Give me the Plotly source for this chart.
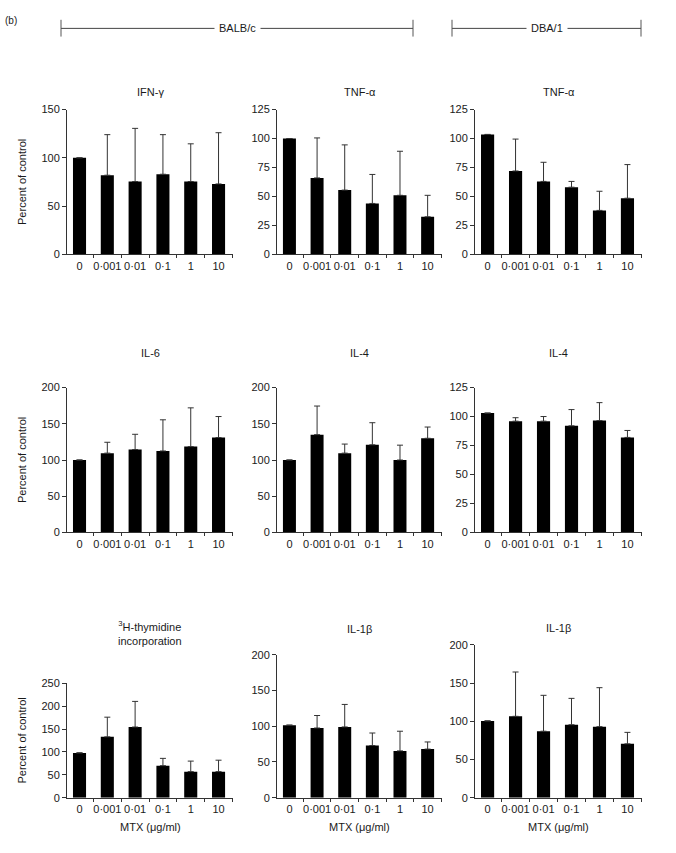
import plotly.graph_objects as go

W, H = 676, 853

doses = ["0", "0·001", "0·01", "0·1", "1", "10"]

ifng_balb = [100, 82, 75.5, 83, 75.5, 73]
ifng_balb_sd = [0, 42, 55, 41, 39, 53]

tnfa_balb = [100, 66, 55.5, 44, 51, 32.5]
tnfa_balb_sd = [0, 34.5, 39, 25, 38, 18.5]

tnfa_dba = [103.5, 72, 63, 58, 38, 48.5]
tnfa_dba_sd = [0, 27.5, 16.5, 5, 16.5, 29]

il6_balb = [100, 109.5, 114.5, 112.5, 118.5, 131]
il6_balb_sd = [0, 15, 21, 43, 53.5, 29]

il4_balb = [100, 135, 109.5, 121, 100, 130]
il4_balb_sd = [0, 39.5, 12.5, 30.5, 20.5, 15.5]

il4_dba = [103, 96, 96, 92, 96.5, 82]
il4_dba_sd = [0, 3, 4, 14, 15.5, 6]

thym_balb = [98, 133, 154.5, 70, 57, 57]
thym_balb_sd = [0, 43, 56, 16, 23, 25]

il1b_balb = [101.5, 97.5, 99, 73, 65.5, 68]
il1b_balb_sd = [0, 17.5, 31.5, 17.5, 27.5, 10]

il1b_dba = [100.5, 106.5, 87, 95.5, 93, 70.5]
il1b_dba_sd = [0, 58, 47, 34.5, 51, 15]

titles = ["IFN-γ", "TNF-α", "TNF-α",
          "IL-6", "IL-4", "IL-4",
          "<sup>3</sup>H-thymidine<br>incorporation", "IL-1β", "IL-1β"]
yranges = [150, 125, 125, 200, 200, 125, 250, 200, 200]
ysteps = [50, 25, 25, 50, 50, 25, 50, 50, 50]

panels = [(ifng_balb, ifng_balb_sd), (tnfa_balb, tnfa_balb_sd), (tnfa_dba, tnfa_dba_sd),
          (il6_balb, il6_balb_sd), (il4_balb, il4_balb_sd), (il4_dba, il4_dba_sd),
          (thym_balb, thym_balb_sd), (il1b_balb, il1b_balb_sd), (il1b_dba, il1b_dba_sd)]

# pixel layout (left, right) per column, (top, bottom) per panel
cols = [(67, 233), (277, 442), (475, 642)]
tops = [105, 105, 105, 387, 387, 387, 687, 658, 648]
bottoms = [252, 252, 252, 534, 534, 534, 803, 803, 803]
title_y = [87, 87, 87, 352, 352, 352, 636, 632, 631]

FONT = "Liberation Sans, Arial, Helvetica, sans-serif"
TXT = "#1a1a1a"
AX = "#333333"

fig = go.Figure()
layout = dict(width=W, height=H, margin=dict(l=0, r=0, t=0, b=0),
              plot_bgcolor="white", paper_bgcolor="white", showlegend=False,
              font=dict(family=FONT, size=11, color=TXT))
annotations = []
shapes = []

xpos = list(range(len(doses)))

for i, ((vals, sd), title) in enumerate(zip(panels, titles)):
    c = i % 3
    n = i + 1
    xa = "x" if n == 1 else f"x{n}"
    ya = "y" if n == 1 else f"y{n}"
    fig.add_trace(go.Bar(
        x=xpos, y=vals, xaxis=xa, yaxis=ya, width=0.47,
        marker=dict(color="black", line=dict(width=0)),
        error_y=dict(type="data", symmetric=False, array=sd,
                     arrayminus=[0] * len(sd), color=AX, thickness=1, width=3),
        hoverinfo="skip",
    ))
    x0, x1 = cols[c]
    dom_x = [x0 / W, x1 / W]
    dom_y = [1 - bottoms[i] / H, 1 - tops[i] / H]
    layout["xaxis" if n == 1 else f"xaxis{n}"] = dict(
        domain=dom_x, anchor=ya, range=[-0.45, 5.52],
        tickmode="array", tickvals=xpos, ticktext=doses, ticks="",
        showline=True, linecolor=AX, linewidth=1, showgrid=False, zeroline=False,
        tickfont=dict(size=11, color=TXT), ticklabelstandoff=1,
        minor=dict(tickmode="array", tickvals=[0.5, 1.5, 2.5, 3.5, 4.5, 5.5],
                   ticks="outside", ticklen=3, tickcolor=AX, tickwidth=1, showgrid=False),
        fixedrange=True,
    )
    layout["yaxis" if n == 1 else f"yaxis{n}"] = dict(
        domain=dom_y, anchor=xa, range=[0, yranges[i]],
        tickmode="linear", tick0=0, dtick=ysteps[i],
        ticks="outside", ticklen=4, tickcolor=AX, tickwidth=1,
        showline=True, linecolor=AX, linewidth=1, showgrid=False, zeroline=False,
        tickfont=dict(size=11, color=TXT), fixedrange=True,
    )
    annotations.append(dict(text=title, x=(x0 + x1) / 2 / W, y=1 - title_y[i] / H,
                            xref="paper", yref="paper", showarrow=False,
                            xanchor="center", yanchor="middle",
                            font=dict(size=11, color=TXT)))
    if c == 0:
        annotations.append(dict(text="Percent of control", x=22 / W,
                                y=1 - (tops[i] + bottoms[i]) / 2 / H,
                                xref="paper", yref="paper", showarrow=False,
                                textangle=-90, xanchor="center", yanchor="middle",
                                font=dict(size=11, color=TXT)))
    if i >= 6:
        annotations.append(dict(text="MTX (μg/ml)", x=(x0 + x1) / 2 / W, y=1 - 833 / H,
                                xref="paper", yref="paper", showarrow=False,
                                xanchor="center", yanchor="middle",
                                font=dict(size=11, color=TXT)))

# header
annotations.append(dict(text="(b)", x=3 / W, y=1 - 15 / H, xref="paper", yref="paper",
                        showarrow=False, xanchor="left", yanchor="middle",
                        font=dict(size=10, color=TXT)))
hy = 1 - 22.7 / H
for (a, b, label) in [(61, 413, "BALB/c"), (452, 641, "DBA/1")]:
    shapes.append(dict(type="line", xref="paper", yref="paper", x0=a / W, x1=b / W,
                       y0=hy, y1=hy, line=dict(color="#444", width=1)))
    for xx in (a, b):
        shapes.append(dict(type="line", xref="paper", yref="paper", x0=xx / W, x1=xx / W,
                           y0=1 - 14 / H, y1=1 - 31 / H, line=dict(color="#555", width=1)))
    annotations.append(dict(text=label, x=(a + b) / 2 / W, y=hy, xref="paper", yref="paper",
                            showarrow=False, xanchor="center", yanchor="middle",
                            bgcolor="white", borderpad=4,
                            font=dict(size=11, color=TXT)))

layout["annotations"] = annotations
layout["shapes"] = shapes
layout["hovermode"] = False
fig.update_layout(**layout)
fig.write_html("out.html", config={"displayModeBar": False, "staticPlot": True},
               post_script="document.body.style.margin='0';document.body.style.overflow='hidden';")
